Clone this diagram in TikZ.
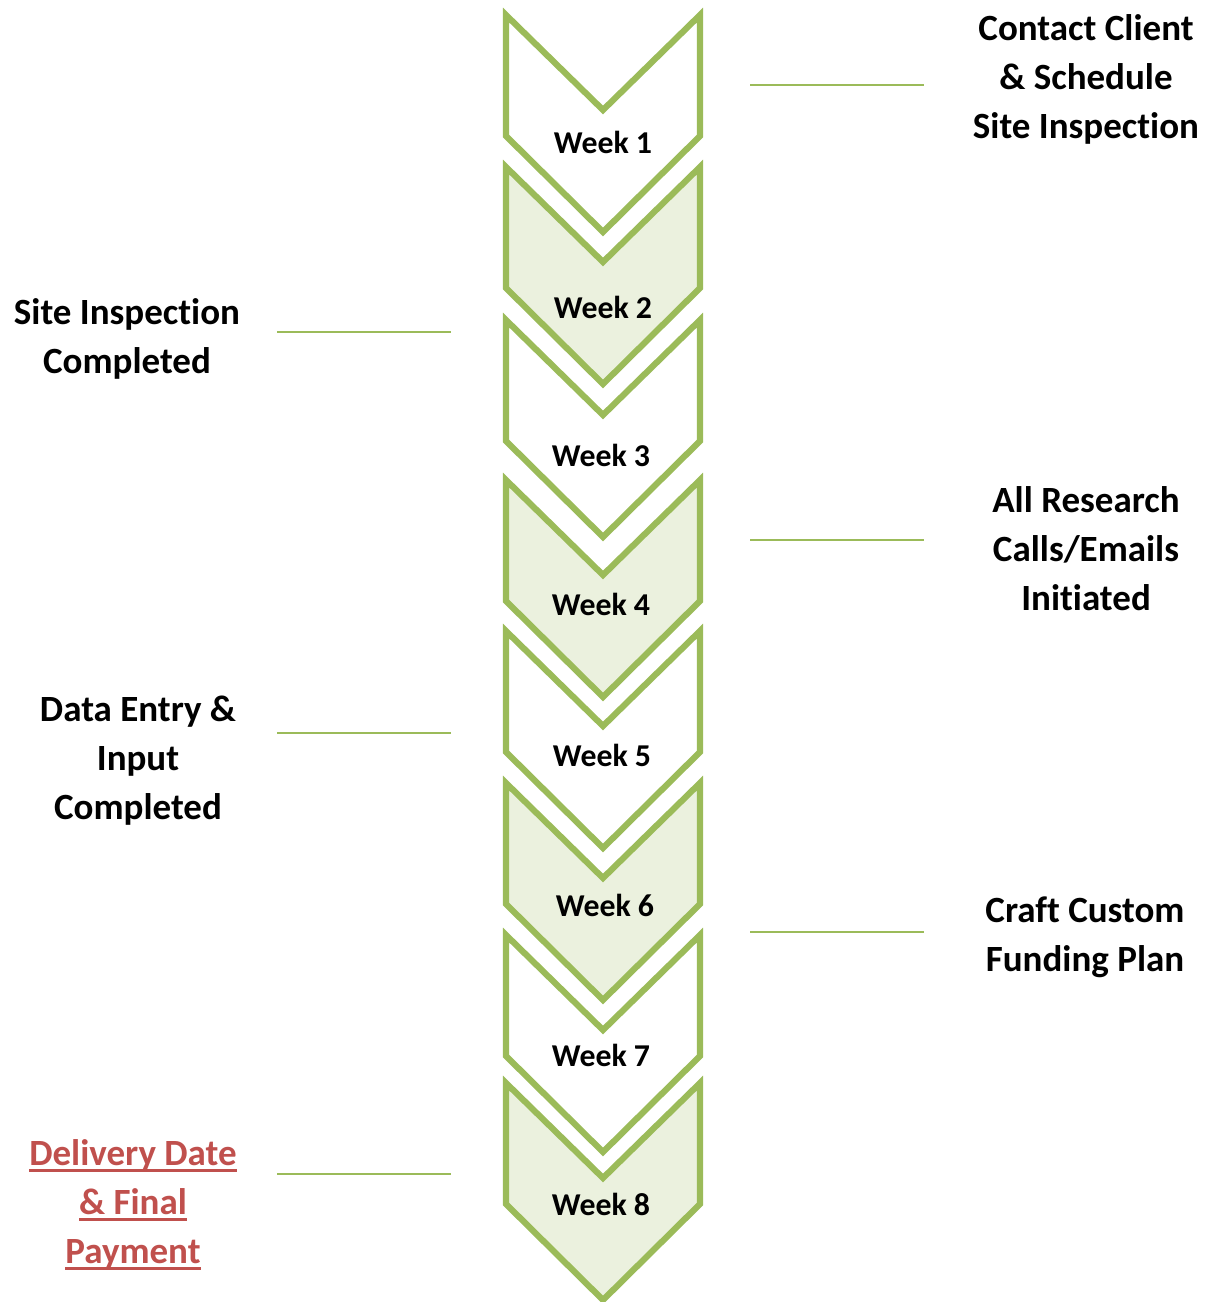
\documentclass[tikz,border=0pt]{standalone}
\usepackage{fontspec}
\setmainfont{Carlito}[RawFeature={-liga;-clig;-dlig}]
\definecolor{chevgreen}{HTML}{9BBB59}
\definecolor{chevfill}{HTML}{EBF1DE}
\definecolor{alertred}{HTML}{C0504D}
% underline sitting just below the baseline
\newcommand\redul[1]{\setbox0\hbox{#1}\rlap{\rule[-6.7pt]{\wd0}{3pt}}\box0}
\begin{document}
\begin{tikzpicture}[x=1pt,y=-1pt,
  chev/.style={draw=chevgreen, line width=6.2pt, line join=miter},
  weeklbl/.style={font=\fontsize{31.8}{38}\selectfont\bfseries, inner sep=0pt},
  lbl/.style={font=\fontsize{37}{49}\selectfont\bfseries, align=center, inner sep=0pt},
  link/.style={draw=chevgreen, line width=2.6pt}]
\useasboundingbox (0,0) rectangle (1207,1302);

% the eight week chevrons, alternately white and pale green
\foreach \t/\f in {15/white,167/chevfill,320/white,480/chevfill,631/white,783/chevfill,935/white,1083/chevfill}
  \filldraw[chev, fill=\f] (506,\t) -- (603,{\t+95}) -- (700,\t) -- (700,{\t+121})
    -- (603,{\t+217}) -- (506,{\t+121}) -- cycle;

% week labels
\node[weeklbl] (w1) at (603,142) {Week 1};
\node[weeklbl] (w2) at (603,307) {Week 2};
\node[weeklbl] (w3) at (601,455) {Week 3};
\node[weeklbl] (w4) at (601,604) {Week 4};
\node[weeklbl] (w5) at (602,755) {Week 5};
\node[weeklbl] (w6) at (605,905) {Week 6};
\node[weeklbl] (w7) at (601,1055) {Week 7};
\node[weeklbl] (w8) at (601,1204) {Week 8};

% milestone descriptions
\node[lbl] (contact) at (1086,79) {Contact Client\\\& Schedule\\Site Inspection};
\node[lbl] (siteinsp) at (127,339) {Site Inspection\\Completed};
\node[lbl] (research) at (1086,549) {All Research\\Calls/Emails\\Initiated};
\node[lbl] (dataentry) at (138,761) {Data Entry \&\\Input\\Completed};
\node[lbl] (funding) at (1085,937) {Craft Custom\\Funding Plan};
\node[lbl, text=alertred] (delivery) at (133,1205)
  {\redul{Delivery Date}\\\redul{\& Final}\\\redul{Payment}};

% leader lines
\coordinate (r1a) at (750,85);   \coordinate (r1b) at (924,85);
\coordinate (r2a) at (750,540);  \coordinate (r2b) at (924,540);
\coordinate (r3a) at (750,932);  \coordinate (r3b) at (924,932);
\coordinate (l1a) at (277,332);  \coordinate (l1b) at (451,332);
\coordinate (l2a) at (277,733);  \coordinate (l2b) at (451,733);
\coordinate (l3a) at (277,1174); \coordinate (l3b) at (451,1174);
\foreach \a/\b in {r1a/r1b,r2a/r2b,r3a/r3b,l1a/l1b,l2a/l2b,l3a/l3b}
  \draw[link] (\a) -- (\b);
\end{tikzpicture}
\end{document}
